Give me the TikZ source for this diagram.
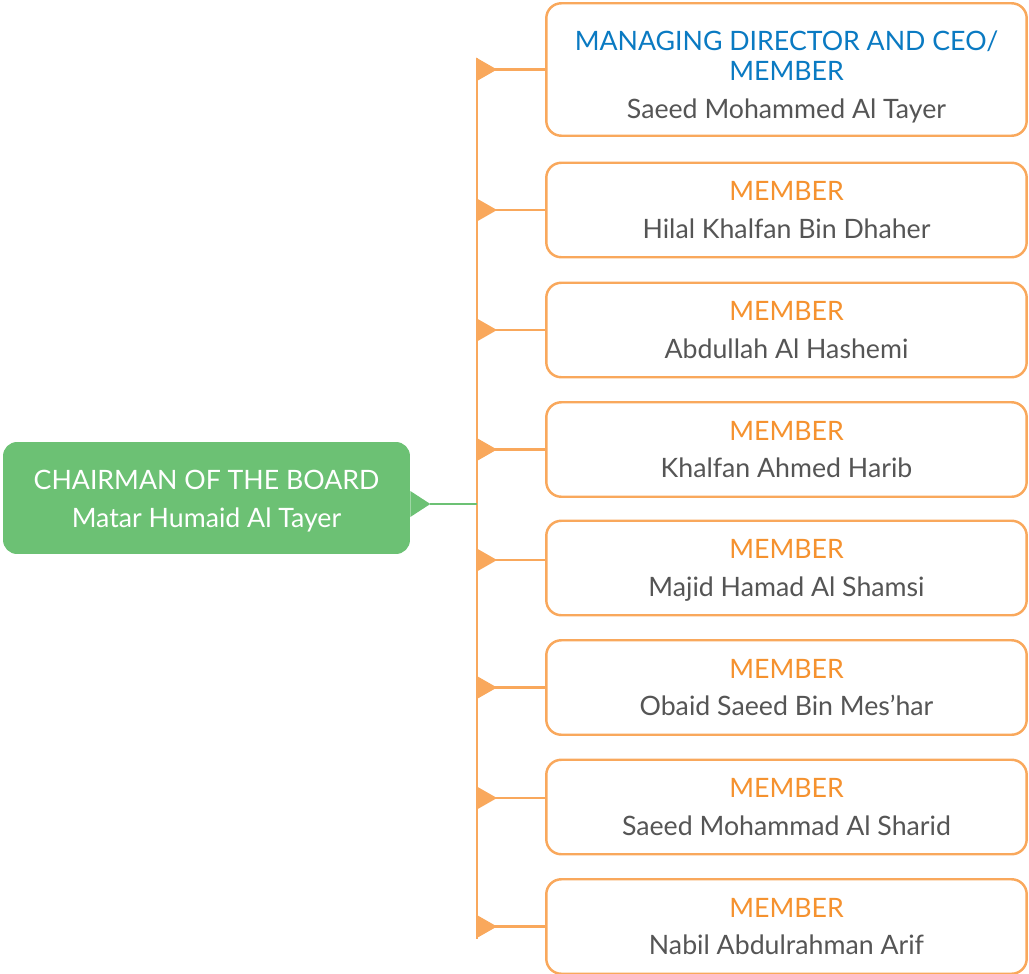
\documentclass[tikz,border=0pt]{standalone}
\usepackage{fontspec}
\setmainfont{Lato}
\usetikzlibrary{positioning}
\definecolor{boardgreen}{HTML}{6CC174}
\definecolor{lineorange}{HTML}{F9A85C}
\definecolor{titleorange}{HTML}{F5922F}
\definecolor{ceoblue}{HTML}{0A7AC2}
\definecolor{namegrey}{HTML}{555555}
\tikzset{
  memberbox/.style={draw=lineorange, line width=1.4pt, rounded corners=0.3cm, fill=white,
    minimum width=9.61cm, minimum height=1.89cm, inner sep=0pt, align=center,
    text depth=0pt, text=namegrey, font=\fontsize{15.2}{21.5}\selectfont},
  chairbox/.style={fill=boardgreen, rounded corners=0.28cm, minimum width=8.14cm,
    minimum height=2.24cm, inner sep=0pt, align=center, text=white,
    text depth=0pt, font=\fontsize{15.2}{21.5}\selectfont},
  branch/.style={draw=lineorange, line width=1.4pt},
  chairlink/.style={draw=boardgreen, line width=1.2pt},
}
\newcommand{\roletitle}[1]{{\color{titleorange}#1}}

\begin{document}
\begin{tikzpicture}[x=0.02cm, y=-0.02cm]
		%%%%% START %%%%%
		\useasboundingbox (0,0) rectangle (1029,974);
		
		\node[chairbox] (chair) at (206.5,498) {\rule{0pt}{0.42cm}CHAIRMAN OF THE BOARD\\Matar Humaid Al Tayer};
		
		\node[memberbox, minimum height=2.65cm] (m1) at (786.5,69.5)
			{\rule{0pt}{0.6cm}{\color{ceoblue}MANAGING DIRECTOR AND CEO/}\\[-4.5pt]{\color{ceoblue}MEMBER}\\Saeed Mohammed Al Tayer};
		\node[memberbox] (m2) at (786.5,210) {\roletitle{MEMBER}\\Hilal Khalfan Bin Dhaher};
		\node[memberbox] (m3) at (786.5,330) {\roletitle{MEMBER}\\Abdullah Al Hashemi};
		\node[memberbox] (m4) at (786.5,449.5) {\roletitle{MEMBER}\\Khalfan Ahmed Harib};
		\node[memberbox] (m5) at (786.5,568) {\roletitle{MEMBER}\\Majid Hamad Al Shamsi};
		\node[memberbox] (m6) at (786.5,687.5) {\roletitle{MEMBER}\\Obaid Saeed Bin Mes’har};
		\node[memberbox] (m7) at (786.5,807) {\roletitle{MEMBER}\\Saeed Mohammad Al Sharid};
		\node[memberbox] (m8) at (786.5,926.5) {\roletitle{MEMBER}\\Nabil Abdulrahman Arif};
		
		% spine
		\coordinate (spinetop) at (477,58);
		\coordinate (spinebot) at (477,939);
		\draw[branch] (spinetop) -- (spinebot);
		
		% chairman link
		\coordinate (chairtip) at ([yshift=-0.12cm]chair.east);
		\fill[boardgreen] (chairtip) ++(0,-13) -- ++(20,13) -- ++(-20,13) -- cycle;
		\draw[chairlink] (chairtip) ++(20,0) -- (spinetop |- chairtip);
		
		% branches
		\foreach \m/\dy in {m1/0, m2/0, m3/0, m4/0, m5/0.16, m6/0, m7/0.18, m8/0} {
			\coordinate (\m in) at ([yshift=\dy cm]\m.west);
			\draw[branch] (spinetop |- \m in) -- (\m in);
			\fill[lineorange] (spinetop |- \m in) ++(-1,-12) -- ++(21,12) -- ++(-21,12) -- cycle;
		}
		
		%%%%% END %%%%%
	\end{tikzpicture}
\end{document}
